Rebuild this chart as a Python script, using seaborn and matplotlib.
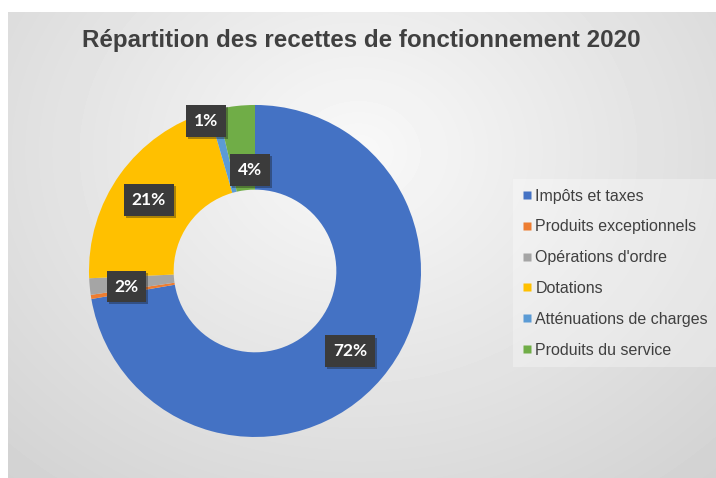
import numpy as np
import matplotlib
matplotlib.use("Agg")
import matplotlib.pyplot as plt
import matplotlib.patheffects as pe
from matplotlib.lines import Line2D
import seaborn as sns

categories = ["Impôts et taxes", "Produits exceptionnels", "Opérations d'ordre",
              "Dotations", "Atténuations de charges", "Produits du service"]
shares = [72.3, 0.4, 1.6, 21.2, 0.9, 3.6]
colors = ["#4472C4", "#ED7D31", "#A5A5A5", "#FFC000", "#5B9BD5", "#70AD47"]
title = "Répartition des recettes de fonctionnement 2020"

sns.set_theme(style="white")
plt.rcParams['font.family'] = ['Liberation Sans', 'DejaVu Sans']
palette = sns.color_palette(colors)

fig = plt.figure(figsize=(7.16, 4.78), dpi=100)
fig.patch.set_facecolor("white")

# radial gradient background of the chart area
bg = fig.add_axes([8 / 716, 0, 1 - 8 / 716, 1 - 12 / 478])
yy, xx = np.mgrid[0:466, 0:708]
d = np.sqrt(((xx - 350) / 520) ** 2 + ((yy - 140) / 430) ** 2)
shade = 0.975 - 0.15 * d
bg.imshow(shade, cmap="gray", vmin=0, vmax=1, aspect="auto", interpolation="bilinear")
bg.set_axis_off()

ax = fig.add_axes([0.1243, 0.0858, 0.4637, 0.6946])
wedges, _ = ax.pie(shares, colors=palette, startangle=90, counterclock=False,
                   radius=1, wedgeprops=dict(width=0.51, linewidth=0))
ax.set_xlim(-1, 1)
ax.set_ylim(-1, 1)
ax.set_axis_off()

# data labels (small slices nudged like the original)
label_r = [0.75, None, 0.78, 0.77, 0.95, 0.61]
label_turn = [0, 0, 1.5, 2, 3.5, -3.5]
for w, r, dt, v in zip(wedges, label_r, label_turn, shares):
    if r is None:
        continue
    ang = np.deg2rad((w.theta1 + w.theta2) / 2 + dt)
    t = ax.text(r * np.cos(ang), r * np.sin(ang), f"{v:.0f}%", ha="center", va="center",
                color="white", fontsize=12.5, fontweight="bold", family=["Lato", "DejaVu Sans"],
                bbox=dict(boxstyle="square,pad=0.45", facecolor="#3b3b3b", edgecolor="none"))
    t.get_bbox_patch().set_path_effects([pe.SimplePatchShadow(offset=(1.5, -1.5), alpha=0.35),
                                         pe.Normal()])

fig.text(0.505, 1 - 47 / 478, title, ha="center", va="baseline", fontsize=17.4,
         fontweight="bold", color="#404040")

handles = [Line2D([], [], marker="s", linestyle="none", markersize=6,
                  markerfacecolor=c, markeredgecolor="none") for c in palette]
leg = fig.legend(handles, categories, loc="upper left", bbox_to_anchor=(513 / 716, 1 - 179 / 478),
                 frameon=True, fancybox=False, fontsize=11.5, labelspacing=0.99,
                 handlelength=0.55, handletextpad=0.25, borderpad=0.6, borderaxespad=0)
leg.get_frame().set_facecolor("white")
leg.get_frame().set_alpha(0.3)
leg.get_frame().set_edgecolor("none")
for txt in leg.get_texts():
    txt.set_color("#404040")

fig.savefig("out.png", dpi=100)
